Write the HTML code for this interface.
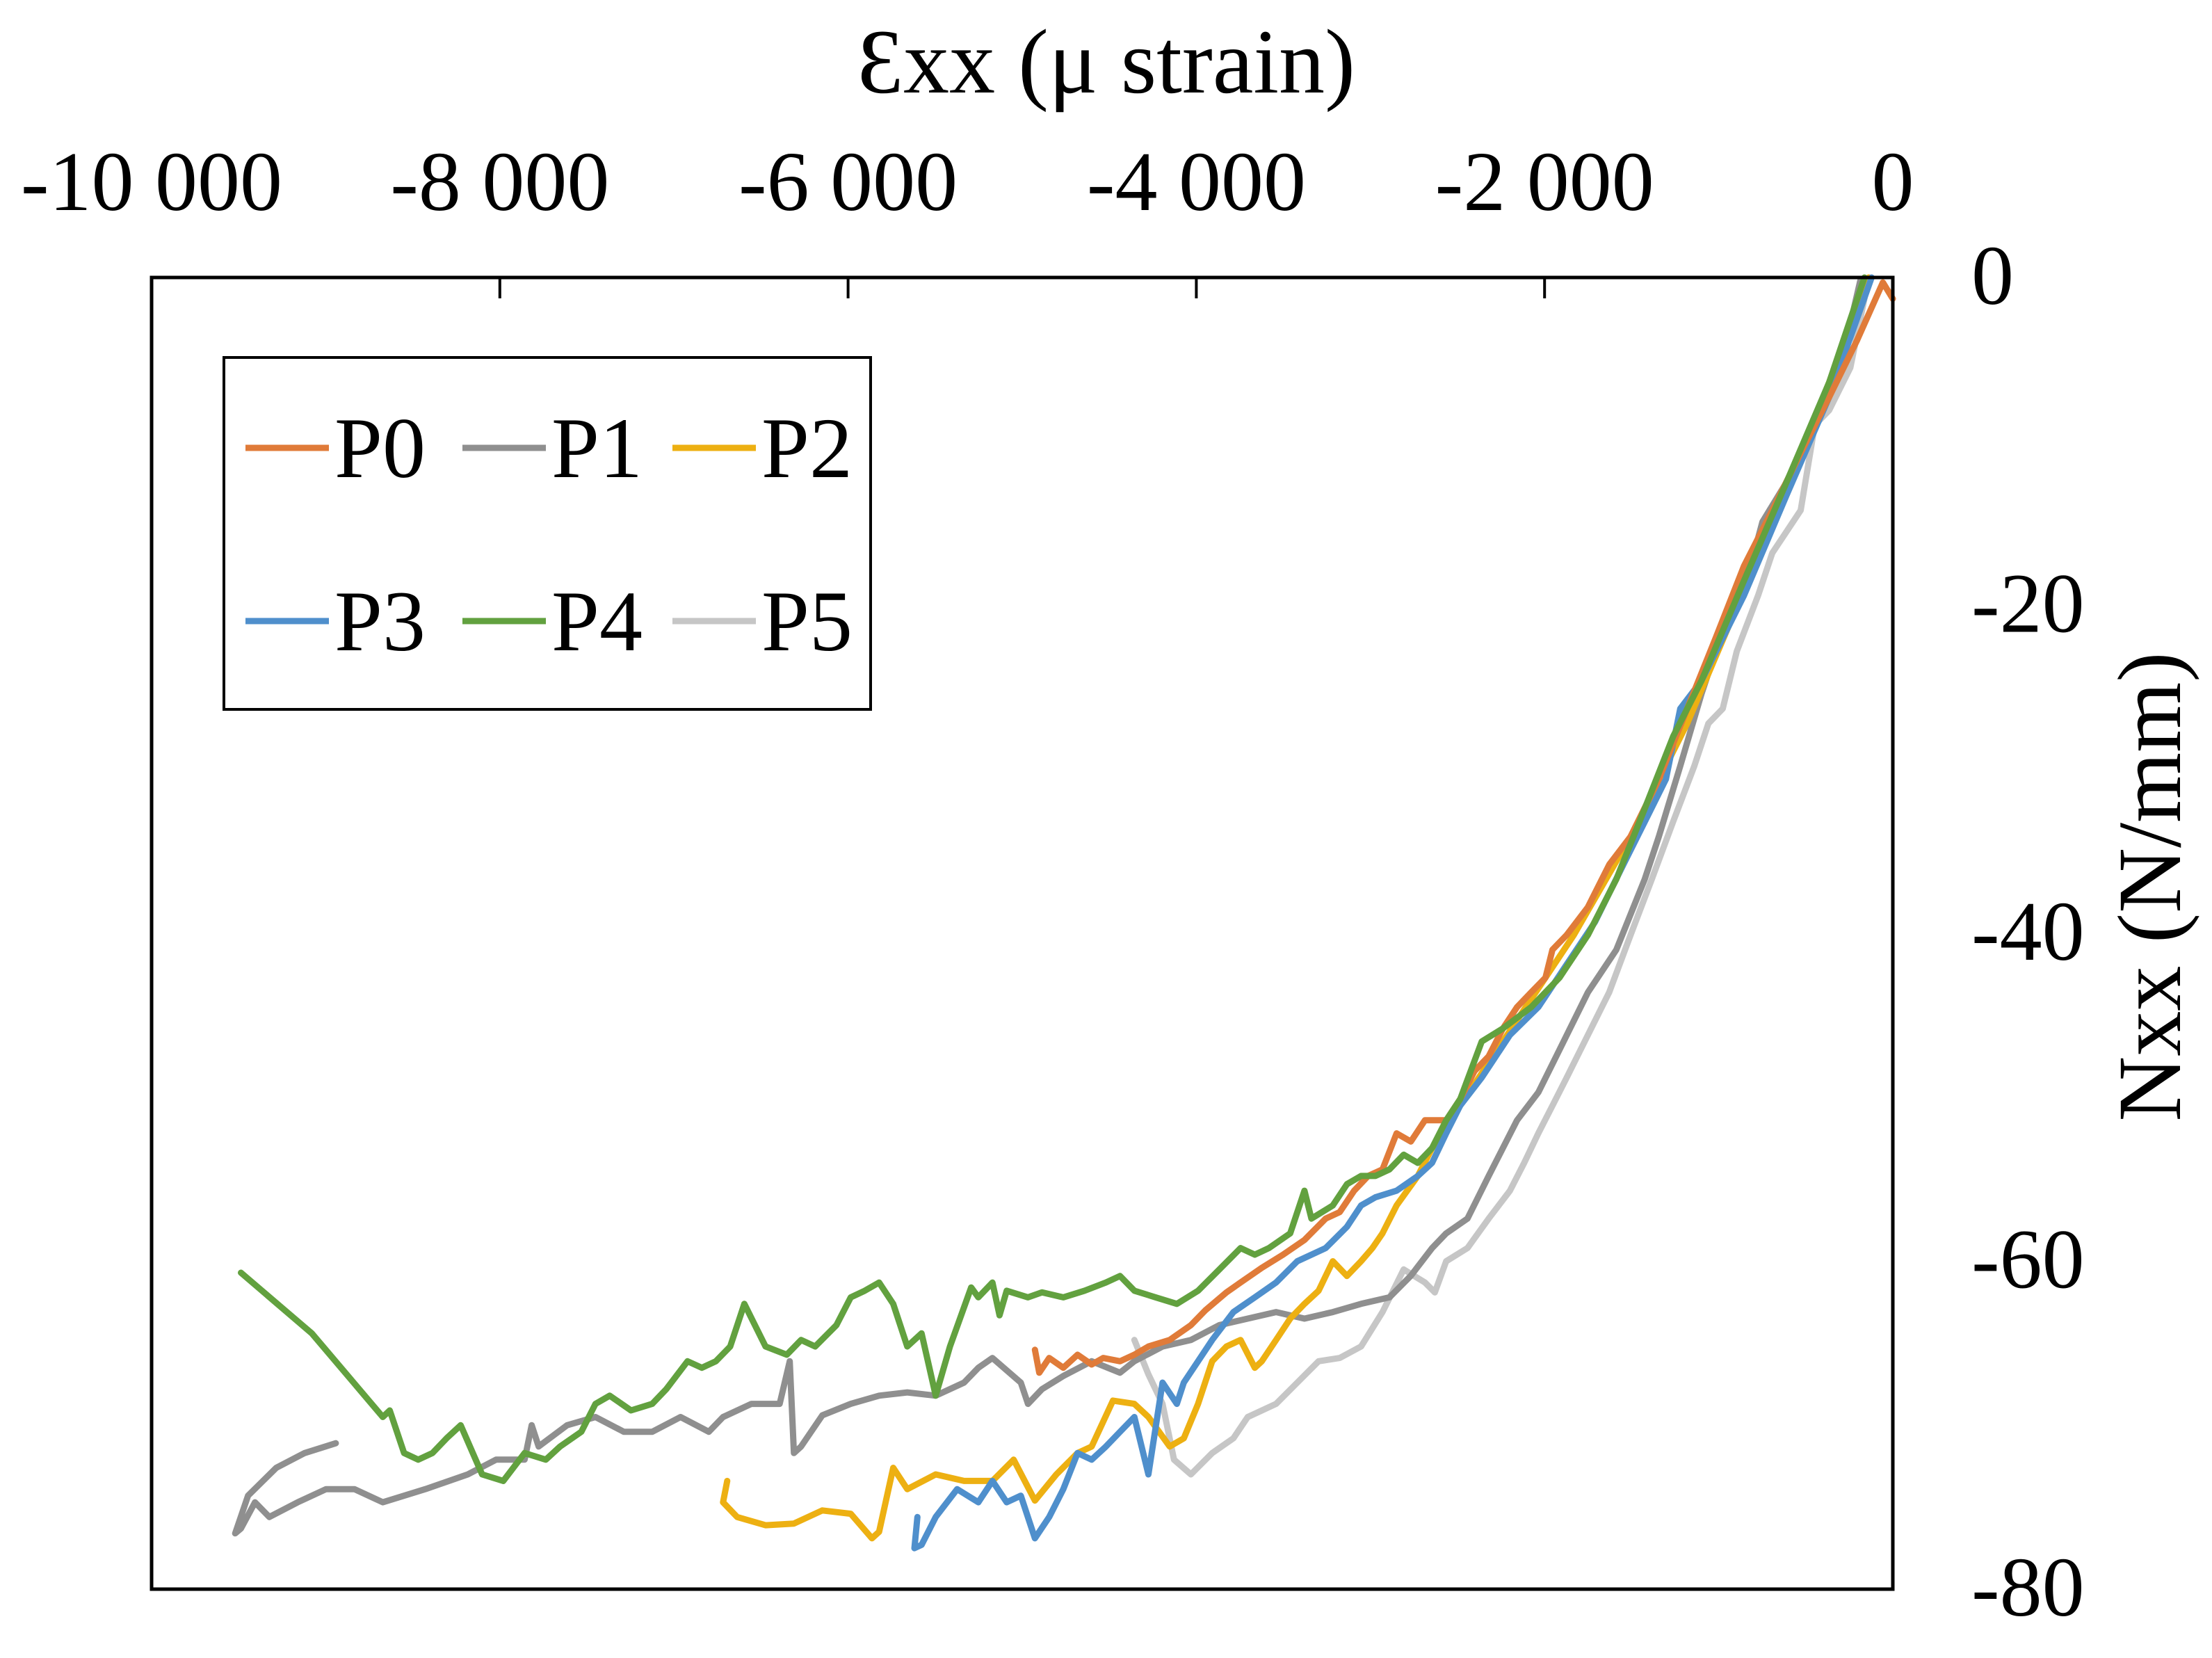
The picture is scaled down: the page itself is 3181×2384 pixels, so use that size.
<!DOCTYPE html>
<html><head><meta charset="utf-8"><style>
html,body{margin:0;padding:0;background:#fff}
svg{display:block;font-family:"Liberation Serif",serif}
</style></head><body>
<svg id="chart" width="3181" height="2384" viewBox="0 0 3181 2384" xmlns="http://www.w3.org/2000/svg">
<rect width="3181" height="2384" fill="#fff"/>
<text x="1591" y="133" font-size="132" text-anchor="middle">Ɛxx (μ strain)</text>
<text transform="translate(3092,1275) rotate(-90)" font-size="130" text-anchor="middle" dominant-baseline="central">Nxx (N/mm)</text>
<g id="ticks"></g>
<g id="series"></g>
<rect x="218" y="399" width="2504" height="1886" fill="none" stroke="#000" stroke-width="5"/>
<g>
<rect x="322" y="514" width="930" height="506" fill="#fff" stroke="#000" stroke-width="4"/>
<g id="legend-items"></g>
</g>
</svg>
<script>
const xTicks=[-10000,-8000,-6000,-4000,-2000,0];
const xTickLabels=["-10 000","-8 000","-6 000","-4 000","-2 000","0"];
const yTicks=[0,-20,-40,-60,-80];
const yTickLabels=["0","-20","-40","-60","-80"];
const seriesNames=["P0","P1","P2","P3","P4","P5"];
const seriesColors=["#E07B39","#8f8f8f","#EDB012","#4F8FCC","#62A13F","#C6C6C6"];
const p0=[[0,-1.3],[-57,-0.3],[-204,-3.8],[-366,-7.3],[-529,-10.7],[-692,-14.2],[-855,-17.6],[-1018,-22],[-1181,-26.3],[-1344,-30.6],[-1506,-34.1],[-1628,-35.8],[-1751,-38.4],[-1873,-40.1],[-1955,-41],[-1995,-42.7],[-2077,-43.6],[-2158,-44.5],[-2239,-45.8],[-2321,-47.5],[-2402,-48.4],[-2484,-50.1],[-2565,-51.4],[-2687,-51.4],[-2768,-52.7],[-2850,-52.2],[-2931,-54.4],[-3013,-54.8],[-3094,-55.7],[-3176,-57],[-3257,-57.4],[-3379,-58.7],[-3502,-59.6],[-3624,-60.4],[-3746,-61.3],[-3827,-61.9],[-3949,-63],[-4031,-63.9],[-4153,-64.8],[-4275,-65.2],[-4356,-65.7],[-4438,-66.1],[-4535,-65.9],[-4601,-66.3],[-4682,-65.7],[-4764,-66.5],[-4845,-65.9],[-4902,-66.8],[-4927,-65.4]];
const p1=[[-187,-0.2],[-285,-4.7],[-448,-9],[-611,-12.5],[-749,-14.9],[-774,-15.9],[-936,-20.2],[-1099,-25.4],[-1221,-29.8],[-1344,-34.1],[-1425,-36.7],[-1588,-41],[-1751,-43.6],[-1914,-47.1],[-2036,-49.7],[-2158,-51.4],[-2321,-54.8],[-2443,-57.4],[-2565,-58.3],[-2646,-59.2],[-2769,-60.9],[-2891,-62.2],[-3054,-62.6],[-3216,-63.1],[-3379,-63.5],[-3542,-63.1],[-3705,-63.5],[-3868,-63.9],[-4031,-64.8],[-4194,-65.2],[-4356,-66.1],[-4438,-66.8],[-4601,-66.1],[-4764,-67],[-4886,-67.8],[-4967,-68.7],[-5008,-67.4],[-5171,-65.9],[-5252,-66.5],[-5334,-67.4],[-5497,-68.2],[-5660,-68],[-5822,-68.2],[-5985,-68.7],[-6148,-69.4],[-6270,-71.3],[-6311,-71.7],[-6335,-66.1],[-6393,-68.7],[-6555,-68.7],[-6718,-69.5],[-6800,-70.4],[-6962,-69.5],[-7125,-70.4],[-7288,-70.4],[-7451,-69.5],[-7614,-70],[-7777,-71.3],[-7817,-70],[-7858,-72.1],[-8021,-72.1],[-8184,-73],[-8428,-73.9],[-8672,-74.7],[-8835,-73.9],[-8998,-73.9],[-9161,-74.7],[-9324,-75.6],[-9406,-74.7],[-9487,-76.3],[-9520,-76.6],[-9446,-74.3],[-9284,-72.6],[-9121,-71.7],[-8942,-71.1]];
const p2=[[-138,0],[-366,-6.4],[-692,-15.1],[-936,-21.1],[-1181,-27.2],[-1384,-31.5],[-1506,-34.1],[-1669,-37.1],[-1832,-40.1],[-1995,-42.7],[-2158,-45.3],[-2321,-47.9],[-2484,-50.5],[-2646,-53.1],[-2728,-54.8],[-2850,-56.6],[-2931,-58.3],[-2989,-59.2],[-3054,-60],[-3135,-60.9],[-3216,-60],[-3298,-61.8],[-3379,-62.6],[-3461,-63.5],[-3542,-64.8],[-3624,-66.1],[-3664,-66.5],[-3746,-64.8],[-3827,-65.2],[-3909,-66.1],[-3990,-68.7],[-4072,-70.8],[-4153,-71.3],[-4275,-69.5],[-4356,-68.7],[-4479,-68.5],[-4601,-71.3],[-4682,-71.7],[-4804,-73],[-4927,-74.6],[-5049,-72.1],[-5171,-73.4],[-5334,-73.4],[-5497,-73],[-5660,-73.9],[-5741,-72.6],[-5822,-76.5],[-5863,-76.9],[-5985,-75.4],[-6148,-75.2],[-6311,-76],[-6474,-76.1],[-6637,-75.6],[-6718,-74.7],[-6694,-73.4]];
const p3=[[-122,0],[-366,-7.3],[-611,-13.3],[-855,-19.4],[-1099,-24.6],[-1221,-26.3],[-1303,-30.6],[-1425,-33.2],[-1547,-35.8],[-1710,-39.3],[-1873,-41.9],[-2036,-44.5],[-2199,-46.2],[-2361,-48.8],[-2484,-50.5],[-2565,-52.2],[-2646,-54],[-2728,-54.8],[-2850,-55.7],[-2972,-56.1],[-3054,-56.6],[-3135,-57.9],[-3257,-59.2],[-3420,-60],[-3542,-61.3],[-3664,-62.2],[-3787,-63.1],[-3909,-64.8],[-3990,-66.1],[-4072,-67.4],[-4112,-68.7],[-4194,-67.4],[-4275,-73],[-4356,-69.5],[-4438,-70.4],[-4519,-71.3],[-4601,-72.1],[-4682,-71.7],[-4764,-73.9],[-4845,-75.6],[-4927,-76.9],[-5008,-74.3],[-5089,-74.7],[-5171,-73.4],[-5252,-74.7],[-5374,-73.9],[-5497,-75.6],[-5578,-77.3],[-5619,-77.5],[-5602,-75.6]];
const p4=[[-163,0],[-366,-6.4],[-611,-12.5],[-855,-18.5],[-1099,-24.6],[-1262,-28],[-1425,-32.4],[-1588,-36.7],[-1751,-40.1],[-1914,-42.7],[-2077,-44.5],[-2239,-45.8],[-2361,-46.6],[-2484,-50.1],[-2565,-51.4],[-2646,-53.1],[-2728,-54],[-2809,-53.5],[-2891,-54.4],[-2972,-54.8],[-3054,-54.8],[-3135,-55.3],[-3216,-56.6],[-3339,-57.4],[-3379,-55.7],[-3461,-58.3],[-3583,-59.2],[-3664,-59.6],[-3746,-59.2],[-3868,-60.5],[-3990,-61.8],[-4112,-62.6],[-4234,-62.2],[-4356,-61.8],[-4438,-60.9],[-4519,-61.3],[-4642,-61.8],[-4764,-62.2],[-4886,-61.9],[-4967,-62.2],[-5089,-61.8],[-5130,-63.3],[-5171,-61.3],[-5252,-62.2],[-5293,-61.6],[-5415,-65.2],[-5497,-68.2],[-5578,-64.4],[-5660,-65.2],[-5741,-62.6],[-5822,-61.3],[-5904,-61.8],[-5985,-62.2],[-6067,-63.9],[-6189,-65.2],[-6270,-64.8],[-6352,-65.7],[-6474,-65.2],[-6596,-62.6],[-6677,-65.2],[-6759,-66.1],[-6840,-66.5],[-6922,-66.1],[-7044,-67.8],[-7125,-68.7],[-7247,-69.1],[-7369,-68.2],[-7451,-68.7],[-7532,-70.4],[-7654,-71.3],[-7736,-72.1],[-7858,-71.7],[-7980,-73.4],[-8102,-73],[-8225,-70],[-8306,-70.8],[-8387,-71.7],[-8469,-72.1],[-8550,-71.7],[-8632,-69.1],[-8672,-69.5],[-9080,-64.4],[-9487,-60.7]];
const p5=[[-138,0],[-244,-5.5],[-366,-8.1],[-448,-9],[-529,-14.2],[-692,-16.8],[-774,-19.4],[-896,-22.8],[-977,-26.3],[-1059,-27.2],[-1140,-29.8],[-1262,-33.2],[-1384,-36.7],[-1506,-40.1],[-1629,-43.6],[-1751,-46.2],[-1873,-48.8],[-1954,-50.5],[-2036,-52.2],[-2117,-54],[-2199,-55.7],[-2321,-57.4],[-2443,-59.2],[-2565,-60],[-2630,-61.9],[-2687,-61.3],[-2809,-60.5],[-2931,-63.1],[-3054,-65.2],[-3176,-65.9],[-3298,-66.1],[-3420,-67.4],[-3542,-68.7],[-3705,-69.5],[-3787,-70.8],[-3909,-71.7],[-4031,-73],[-4128,-72.1],[-4194,-68.7],[-4275,-66.9],[-4356,-64.8]];
const seriesData=[p0,p1,p2,p3,p4,p5];

const NS="http://www.w3.org/2000/svg";
const L=218,R=2722,T=399,B=2285;
function xs(v){return L+(v+10000)/10000*(R-L);}
function ys(v){return T+(0-v)/80*(B-T);}
function mk(tag,attrs,parent){const e=document.createElementNS(NS,tag);for(const k in attrs)e.setAttribute(k,attrs[k]);parent.appendChild(e);return e;}

const tg=document.getElementById('ticks');
xTicks.forEach((v,i)=>{
  const t=mk('text',{x:xs(v),y:302,'font-size':122,'text-anchor':'middle'},tg);
  
  
  t.textContent=xTickLabels[i];
  if(i>0&&i<xTicks.length-1){
    const l=mk('line',{x1:xs(v),x2:xs(v),y1:T,y2:T+30,stroke:'#000','stroke-width':4},tg);
    
    
  }
});
yTicks.forEach((v,i)=>{
  const t=mk('text',{x:2835,y:ys(v)+38,'font-size':122,'text-anchor':'start'},tg);
  
  
  t.textContent=yTickLabels[i];
});

const sg=document.getElementById('series');
const order=[5,1,2,3,0,4];
order.forEach(si=>{
  const d=seriesData[si].map((p,j)=>(j?'L':'M')+xs(p[0]).toFixed(1)+' '+ys(p[1]).toFixed(1)).join(' ');
  const path=mk('path',{d:d,fill:'none',stroke:seriesColors[si],'stroke-width':9,'stroke-linejoin':'round','stroke-linecap':'round'},sg);
  
  
});

const lg=document.getElementById('legend-items');
const lx=[353,665,967], ly=[644,893];
seriesNames.forEach((n,i)=>{
  const cx=lx[i%3], cy=ly[Math.floor(i/3)];
  const g=mk('g',{},lg);
  
  
  mk('line',{x1:cx,x2:cx+120,y1:cy,y2:cy,stroke:seriesColors[i],'stroke-width':9},g);
  const t=mk('text',{x:cx+128,y:cy+42,'font-size':124},g);
  t.textContent=n;
});
</script>
</body></html>
